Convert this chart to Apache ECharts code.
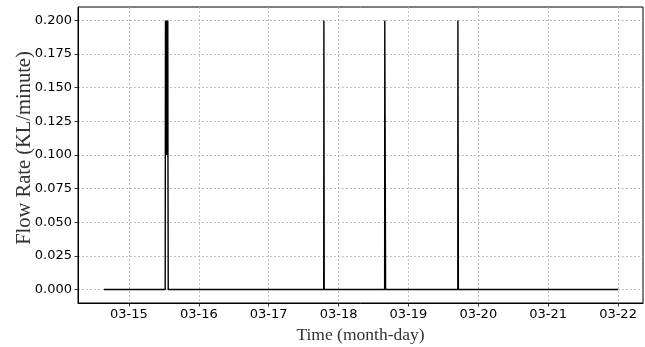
<!DOCTYPE html>
<html>
<head>
<meta charset="utf-8">
<script src="https://cdn.jsdelivr.net/npm/echarts@6/dist/echarts.min.js"></script>
<style>html,body{margin:0;padding:0;background:#fff;}#c{width:645px;height:347px;}</style>
</head>
<body>
<div id="c"></div>
<script>
// Time stamps (local) and flow readings (KL/minute)
const times = [
  '2023-03-14 15:25',
  '2023-03-15 12:27', '2023-03-15 12:30', '2023-03-15 12:33', '2023-03-15 12:36',
  '2023-03-15 12:39', '2023-03-15 12:42', '2023-03-15 12:45', '2023-03-15 12:48',
  '2023-03-15 12:51', '2023-03-15 12:54', '2023-03-15 12:57', '2023-03-15 13:00',
  '2023-03-15 13:03', '2023-03-15 13:06', '2023-03-15 13:09', '2023-03-15 13:12',
  '2023-03-15 13:15', '2023-03-15 13:18', '2023-03-15 13:21', '2023-03-15 13:24',
  '2023-03-15 13:27', '2023-03-15 13:30',
  '2023-03-17 18:55', '2023-03-17 18:58', '2023-03-17 19:02', '2023-03-17 19:05',
  '2023-03-18 15:50', '2023-03-18 15:53', '2023-03-18 16:07', '2023-03-18 16:10',
  '2023-03-19 16:58', '2023-03-19 17:00', '2023-03-19 17:08', '2023-03-19 17:10',
  '2023-03-22 00:00'
];
const flow = [
  0.000,
  0.000, 0.100, 0.200, 0.100,
  0.200, 0.100, 0.200, 0.100,
  0.200, 0.100, 0.200, 0.100,
  0.200, 0.100, 0.200, 0.100,
  0.200, 0.100, 0.200, 0.100,
  0.100, 0.000,
  0.000, 0.200, 0.200, 0.000,
  0.000, 0.200, 0.200, 0.000,
  0.000, 0.200, 0.200, 0.000,
  0.000
];
const xTickDates = ['2023-03-15 00:00','2023-03-16 00:00','2023-03-17 00:00','2023-03-18 00:00',
                    '2023-03-19 00:00','2023-03-20 00:00','2023-03-21 00:00','2023-03-22 00:00'];
const yTicks = [0, 0.025, 0.05, 0.075, 0.1, 0.125, 0.15, 0.175, 0.2];

function ts(s) {
  const [d, t] = s.split(' ');
  const [Y, M, D] = d.split('-').map(Number);
  const [h, m] = t.split(':').map(Number);
  return new Date(Y, M - 1, D, h, m).getTime();
}
const seriesData = times.map((t, i) => [ts(t), flow[i]]);
const xTickVals = xTickDates.map(ts);
const pad = n => (n < 10 ? '0' : '') + n;

const chart = echarts.init(document.getElementById('c'), null, {renderer: 'canvas'});
const gridLine = {show: true, lineStyle: {color: '#b0b0b0', width: 0.8, type: [2, 2]}};
chart.setOption({
  animation: false,
  backgroundColor: '#fff',
  grid: {left: 78, right: 2, top: 7, bottom: 44, show: true, borderColor: '#000', borderWidth: 1,
         backgroundColor: 'transparent', containLabel: false, outerBoundsMode: 'none'},
  xAxis: {
    type: 'value',
    min: ts('2023-03-14 06:30'),
    max: ts('2023-03-22 08:35'),
    name: 'Time (month-day)',
    nameLocation: 'middle',
    nameGap: 23,
    nameMoveOverlap: false,
    nameTextStyle: {fontFamily: 'Liberation Serif', fontSize: 17.5, color: '#333', verticalAlign: 'top'},
    axisLine: {show: true, onZero: false, lineStyle: {color: '#000', width: 1}},
    axisTick: {show: true, length: 3.5, lineStyle: {color: '#000', width: 0.8}, customValues: xTickVals},
    axisLabel: {
      customValues: xTickVals, margin: 5, fontFamily: 'DejaVu Sans', fontSize: 13, color: '#000',
      formatter: v => { const d = new Date(v); return pad(d.getMonth() + 1) + '-' + pad(d.getDate()); }
    },
    splitLine: gridLine
  },
  yAxis: {
    type: 'value',
    min: -0.01,
    max: 0.21,
    name: 'Flow Rate (KL/minute)',
    nameLocation: 'middle',
    nameGap: 43,
    nameMoveOverlap: false,
    nameTextStyle: {fontFamily: 'Liberation Serif', fontSize: 20.5, color: '#333', padding: [0, 0, 0, 14]},
    axisLine: {show: true, lineStyle: {color: '#000', width: 1}},
    axisTick: {show: true, length: 3.5, lineStyle: {color: '#000', width: 0.8}, customValues: yTicks},
    axisLabel: {customValues: yTicks, margin: 6, fontFamily: 'DejaVu Sans', fontSize: 13, color: '#000',
      formatter: v => v.toFixed(3)},
    splitLine: gridLine
  },
  series: [{
    type: 'line',
    data: seriesData,
    showSymbol: false,
    symbol: 'none',
    lineStyle: {color: '#000', width: 1.4},
    z: 5
  }]
});
</script>
</body>
</html>
